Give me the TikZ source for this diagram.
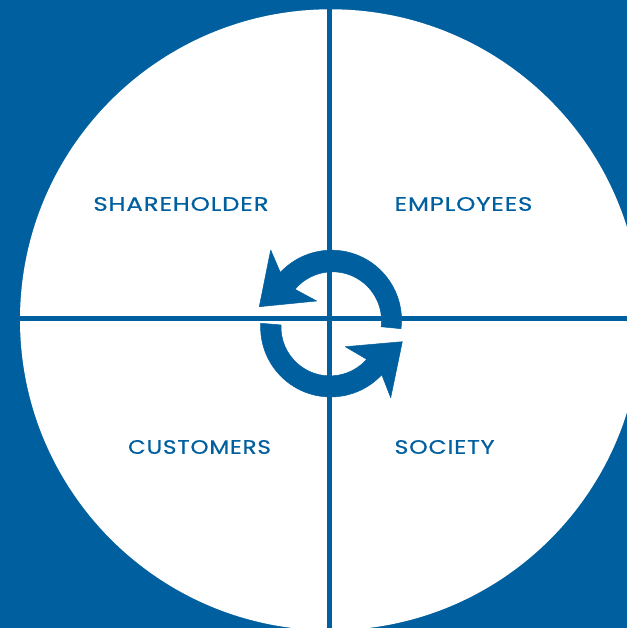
\documentclass[tikz,border=0pt]{standalone}
\usepackage{fontspec}
\setmainfont[FakeStretch=1.2,LetterSpace=4,FakeBold=0.5]{Poppins}
\definecolor{brandblue}{HTML}{00609F}
\tikzset{
  lbl/.style={text=brandblue,font=\fontsize{19.5}{24}\selectfont,inner sep=0pt,anchor=center,transform shape},
  rule/.style={draw=brandblue,line width=4.8pt},
  swirl/.style={fill=brandblue,draw=brandblue,line width=0.5pt,line join=round}
}
\begin{document}
\begin{tikzpicture}[x=1pt,y=-1pt]
\useasboundingbox (0,0) rectangle (627,628);
\fill[brandblue] (0,0) rectangle (627,628);
\begin{scope}
\clip (0,0) rectangle (627,628);
\fill[white] (330.5,319.8) circle[radius=310.5];
\coordinate (top) at (329.5,9);
\coordinate (bot) at (329.5,628);
\coordinate (lft) at (20,318.3);
\coordinate (rgt) at (627,318.3);
\draw[rule] (top) -- (bot);
\draw[rule] (lft) -- (rgt);
\end{scope}
\fill[swirl] (401,328.7) arc[start angle=7,end angle=-137,radius=70]
  -- (270.7,250) -- (259.3,306.7) -- (316.7,301) -- (295,289.3)
  arc[start angle=-140,end angle=7,radius=49] -- cycle;
\fill[swirl] (260.7,323.3) arc[start angle=183,end angle=43,radius=70]
  -- (390.7,397.7) -- (402.3,341.7) -- (345.3,346.7) -- (366.7,359.3)
  arc[start angle=41.4,end angle=182.3,radius=49] -- cycle;
\node[lbl,xscale=1.048] (sh) at (181,204) {SHAREHOLDER};
\node[lbl,xscale=1.045] (em) at (463.5,204) {EMPLOYEES};
\node[lbl,xscale=0.985] (cu) at (199.5,447) {CUSTOMERS};
\node[lbl,xscale=1.01] (so) at (444.5,447) {SOCIETY};
\end{tikzpicture}
\end{document}
